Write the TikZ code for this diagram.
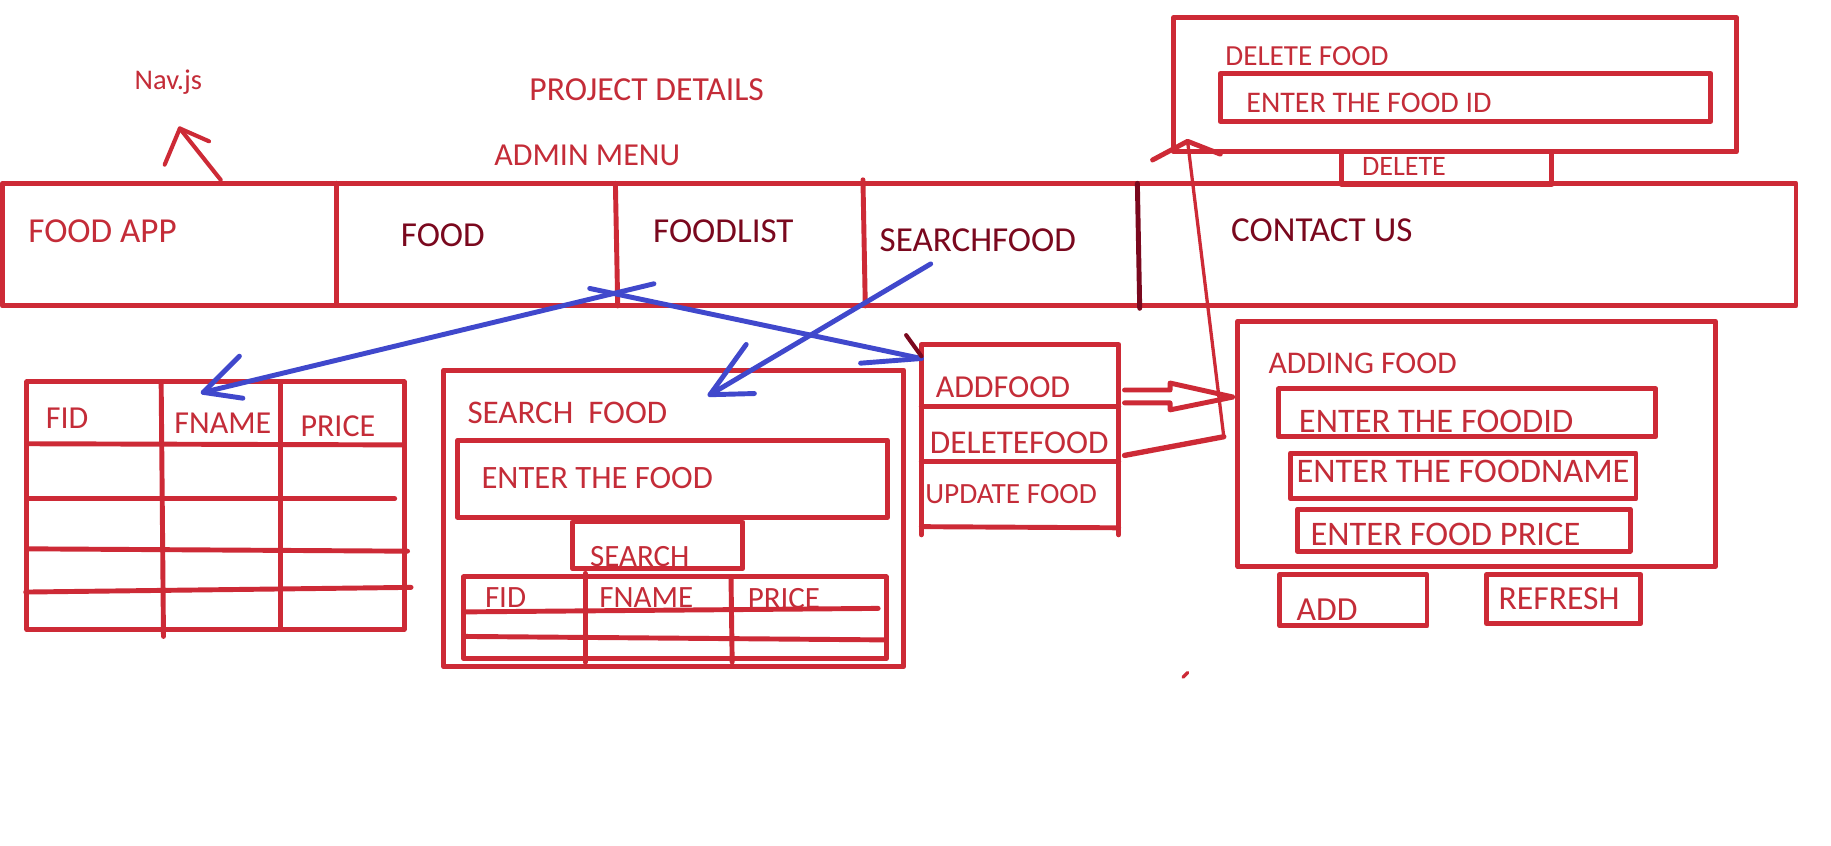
\documentclass[tikz,border=0pt]{standalone}
\usepackage{fontspec}
\setmainfont{Carlito}
\usetikzlibrary{calc}

\definecolor{penred}{RGB}{205,42,54}
\definecolor{inkred}{RGB}{196,44,56}
\definecolor{inkdark}{RGB}{122,8,30}
\definecolor{penblue}{RGB}{64,72,204}

\tikzset{
	pen/.style={draw=penred, line width=2.4pt},
	thinpen/.style={draw=penred, line width=1.6pt},
	bluepen/.style={draw=penblue, line width=2.4pt},
	lbl/.style={anchor=base west, inner sep=0pt, text=inkred},
	dark/.style={text=inkdark},
	sz/.style={font=\fontsize{#1}{#1}\selectfont},
}

\begin{document}
\begin{tikzpicture}[x=0.02cm, y=-0.02cm, line cap=round, line join=round]

	\useasboundingbox (0,0) rectangle (1568,724);
	\fill[white] (0,0) rectangle (1568,724);

	% titles
	\node[lbl, sz=13.9] (navjs) at (115,77) {Nav.js};
	\node[lbl, sz=16.4] (project) at (453,86) {PROJECT DETAILS};
	\node[lbl, sz=15.6] (admin) at (423,142) {ADMIN MENU};

	% nav bar
	\draw[pen] (2,157) rectangle (1538,262);
	\draw[pen] (288,157) -- (288,260);
	\draw[pen] (527,157) -- (529,262);
	\draw[pen] (739,154) -- (741,262);
	\draw[draw=inkdark, line width=2.4pt] (974,157) -- (976,264);

	\node[lbl, sz=17.1] (foodapp) at (24,208) {FOOD APP};
	\node[lbl, dark, sz=17.1] (food) at (343,211) {FOOD};
	\node[lbl, dark, sz=17.1] (foodlist) at (559,208) {FOODLIST};
	\node[lbl, dark, sz=17.1] (searchfood) at (753,215) {SEARCHFOOD};
	\node[lbl, dark, sz=17.1] (contact) at (1054,207) {CONTACT US};

	% arrow to Nav.js
	\coordinate (navtail) at (189,154);
	\coordinate (navtip) at (154,110);
	\coordinate (navbl) at (141,141);
	\coordinate (navbr) at (179,121);
	\draw[pen, line width=2pt] (navtail) -- (navtip);
	\draw[pen, line width=2pt] (navbl) -- (navtip) -- (navbr);

	% delete food
	\draw[pen] (1005,15) rectangle (1487,130);
	\node[lbl, sz=14.2] (delfood) at (1049,56) {DELETE FOOD};
	\draw[pen] (1045,63) rectangle (1465,104);
	\node[lbl, sz=14.6] (foodid) at (1067,96) {ENTER THE FOOD ID};
	\draw[pen] (1149,130) rectangle (1329,158);
	\node[lbl, sz=13.7] (delbtn) at (1166,150) {DELETE};

	% food menu
	\draw[pen] (789,458) -- (789,295) -- (958,295) -- (958,458);
	\draw[pen] (789,348) -- (958,348);
	\draw[pen] (789,395) -- (958,395);
	\draw[pen] (789,451) -- (958,452);
	\node[lbl, sz=15.6] (addfood) at (801,340) {ADDFOOD};
	\node[lbl, sz=16.2] (deletefood) at (796,388) {DELETEFOOD};
	\node[lbl, sz=14.3] (updatefood) at (792,431) {UPDATE FOOD};

	% adding food
	\draw[pen] (1060,275) rectangle (1469,485);
	\node[lbl, sz=15.4] (adding) at (1086,320) {ADDING FOOD};
	\draw[pen] (1095,333) rectangle (1418,374);
	\node[lbl, sz=16.8] (inid) at (1112,370) {ENTER THE FOODID};
	\draw[pen] (1105,388) rectangle (1401,427);
	\node[lbl, sz=16.8] (inname) at (1110,413) {ENTER THE FOODNAME};
	\draw[pen] (1111,436) rectangle (1396,472);
	\node[lbl, sz=16.8] (inprice) at (1122,467) {ENTER FOOD PRICE};
	\draw[pen] (1096,492) rectangle (1222,536);
	\node[lbl, sz=16.4] (addbtn) at (1110,531) {ADD};
	\draw[pen] (1273,492) rectangle (1405,534);
	\node[lbl, sz=16.4] (refresh) at (1283,522) {REFRESH};

	% arrow addfood -> adding food
	\draw[pen] (963,334) -- (1002,334) -- (1002,328) -- (1056,340)
		-- (1002,351) -- (1002,345) -- (963,345);

	% arrow deletefood -> delete food
	\coordinate (delfrom) at (963,390);
	\coordinate (delbend) at (1048,374);
	\coordinate (deltip) at (1017,121);
	\draw[pen, line width=2.6pt] (delfrom) -- (delbend);
	\draw[thinpen] (delbend) -- (deltip);
	\draw[pen, line width=2.4pt] (987,137) -- (deltip) -- (1045,132);

	% food list table
	\draw[pen] (23,327) rectangle (346,539);
	\draw[pen] (138,327) -- (140,545);
	\draw[pen] (240,327) -- (240,539);
	\draw[pen] (23,380) -- (346,381);
	\draw[pen] (25,427) -- (338,427);
	\draw[pen] (25,470) -- (349,472);
	\draw[pen] (22,507) -- (352,503);
	\node[lbl, sz=15.6] (fid) at (39,367) {FID};
	\node[lbl, sz=15.6] (fname) at (149,371) {FNAME};
	\node[lbl, sz=15.6] (price) at (257,374) {PRICE};

	% search food
	\draw[pen] (380,317) rectangle (774,571);
	\node[lbl, sz=16.1] (srchtitle) at (400,363) {SEARCH\ \ FOOD};
	\draw[pen] (392,377) rectangle (760,443);
	\node[lbl, sz=15.9] (srchin) at (412,418) {ENTER THE FOOD};
	\draw[pen] (490,447) rectangle (636,487);
	\node[lbl, sz=15.1] (srchbtn) at (505,485) {SEARCH};
	\draw[pen] (397,494) rectangle (759,564);
	\draw[pen] (501,491) -- (501,567);
	\draw[pen] (626,494) -- (627,567);
	\draw[pen] (397,545) -- (759,548);
	\node[lbl, sz=15.1] (sfid) at (415,520) {FID};
	\node[lbl, sz=15.1] (sfname) at (513,520) {FNAME};
	\node[lbl, sz=15.1] (sprice) at (640,521) {PRICE};
	\draw[pen] (397,524) -- (752,521);

	% blue arrows
	\coordinate (fstart) at (560,243);
	\coordinate (ftip) at (174,336);
	\draw[bluepen] (fstart) -- (ftip);
	\draw[bluepen] (205,305) -- (ftip) -- (208,341);

	\coordinate (astart) at (505,247);
	\coordinate (atip) at (789,307);
	\draw[bluepen] (astart) -- (atip);
	\draw[bluepen] (737,311) -- (atip);
	\draw[draw=inkdark, line width=2pt] (776,287) -- (789,305);

	\coordinate (sstart) at (797,226);
	\coordinate (stip) at (608,338);
	\draw[bluepen] (sstart) -- (stip);
	\draw[bluepen] (639,295) -- (stip) -- (646,337);

	\draw[pen, line width=1.6pt] (1013,580) -- (1017,576);

\end{tikzpicture}
\end{document}
